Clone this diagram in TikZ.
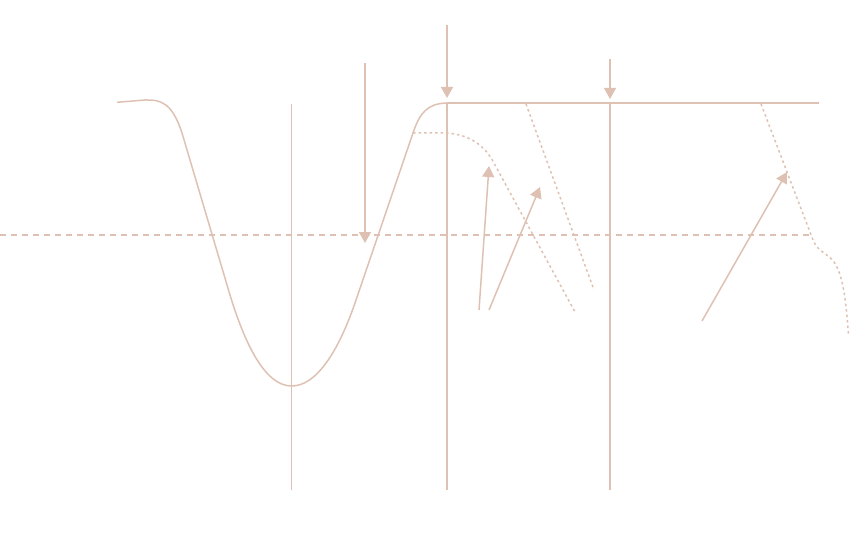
\documentclass[tikz,border=0pt]{standalone}
\usetikzlibrary{arrows.meta}
\definecolor{tan}{RGB}{222,193,178}
\tikzset{
  ln/.style={draw=tan, line width=1.5pt},
  thin ln/.style={draw=tan, line width=1pt},
  thick ln/.style={draw=tan, line width=2pt},
  dash ln/.style={draw=tan, line width=1.3pt, dash pattern=on 6pt off 5pt},
  dot ln/.style={draw=tan, line width=1.5pt, dash pattern=on 2.5pt off 3pt},
  arr/.style={draw=tan, line width=1.5pt, -{Triangle[width=12pt,length=11pt]}, fill=tan},
}
\begin{document}
\begin{tikzpicture}[x=1pt,y=-1pt]
\useasboundingbox (0,0) rectangle (850,548);
% coordinates
\coordinate (dashL) at (0,235);
\coordinate (dashR) at (809,235);
\coordinate (topL) at (447,103);
\coordinate (topM) at (610,103);
\coordinate (topR) at (819,103);
\coordinate (botL) at (447,490);
\coordinate (botM) at (610,490);
\coordinate (axT) at (291,104);
\coordinate (axB) at (291,490);
% dashed horizontal
\draw[dash ln] (dashL) -- (dashR);
% thin axis
\draw[thin ln] (axT) -- (axB);
% main curve
\coordinate (c0) at (117,102.3);
\coordinate (cmin) at (291.7,386);
\draw[ln, line join=round] (c0) -- (145,100)
  .. controls (160,99.5) and (172,102) .. (182,133)
  -- (230,295)
  .. controls (245,344) and (265,386) .. (cmin)
  .. controls (315,386) and (337,355) .. (355,303)
  -- (413,133)
  .. controls (420,112) and (428,103.5) .. (topL);
% flat top line and verticals
\draw[thick ln] (topL) -- (topR);
\draw[thick ln] (topL) -- (botL);
\draw[thick ln] (topM) -- (botM);
% dotted curve
\coordinate (dc0) at (413,133);
\coordinate (dc1) at (575,312);
\draw[dot ln] (dc0) -- (447,133) .. controls (470,135) and (485,145) .. (495,165) -- (dc1);
% dotted straight line
\coordinate (dl0) at (526,104);
\coordinate (dl1) at (594,290);
\draw[dot ln] (dl0) -- (dl1);
% right dotted line
\coordinate (rd0) at (761,104);
\coordinate (rd1) at (848.5,335);
\draw[dot ln] (rd0) -- (813,240) .. controls (818,252) and (826,252) .. (834,262) .. controls (843,275) and (846,300) .. (rd1);
% down arrows
\coordinate (a1s) at (365,63);
\coordinate (a1e) at (365,243);
\coordinate (a2s) at (447,25);
\coordinate (a2e) at (447,98);
\coordinate (a3s) at (610,59);
\coordinate (a3e) at (610,99);
\draw[arr] (a1s) -- (a1e);
\draw[arr] (a2s) -- (a2e);
\draw[arr, line width=1.1pt] (a3s) -- (a3e);
% up arrows
\coordinate (u1s) at (479,310);
\coordinate (u1e) at (489,166);
\coordinate (u2s) at (489,310);
\coordinate (u2e) at (540,187);
\coordinate (u3s) at (702,321);
\coordinate (u3e) at (787,172);
\draw[arr] (u1s) -- (u1e);
\draw[arr] (u2s) -- (u2e);
\draw[arr] (u3s) -- (u3e);
\end{tikzpicture}
\end{document}
